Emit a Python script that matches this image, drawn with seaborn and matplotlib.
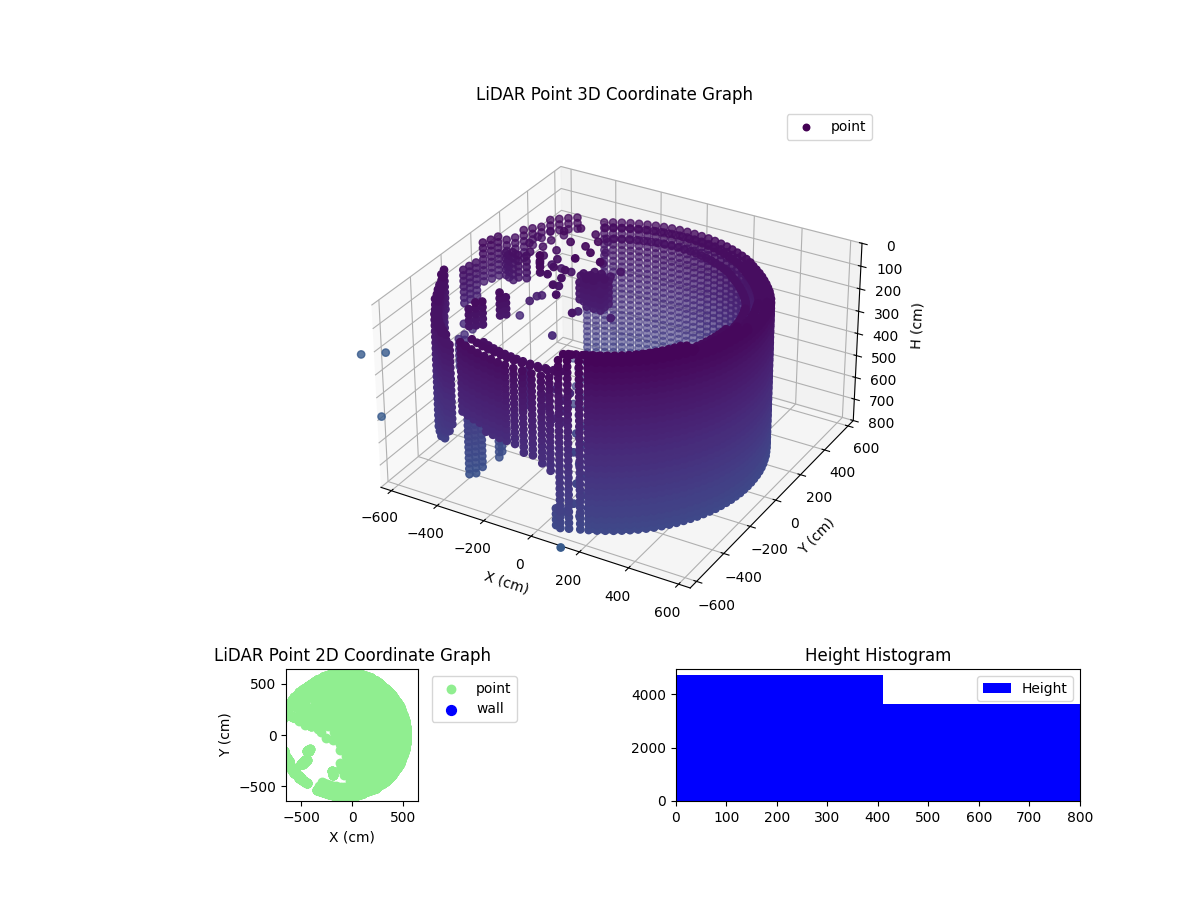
import numpy as np
import matplotlib
matplotlib.use("Agg")
import matplotlib.pyplot as plt
import seaborn as sns

# Wall columns: bearing (deg), radius (cm), top and bottom height (cm). top=bottom=0 means no column.
wall_angle = [0,3,6,9,12,15,18,21,24,27,30,33,36,39,42,45,48,51,54,57,
              60,63,66,69,72,75,78,81,84,87,90,93,96,99,102,105,108,111,114,117,
              120,123,126,129,132,135,138,141,144,147,150,153,156,159,162,165,168,171,174,177,
              180,183,186,189,192,195,198,201,204,207,210,213,216,219,222,225,228,231,234,
              237,240,243,246,249,252,255,258,261.5,265,268.5,272,275,278,281,
              285,288,291,294,297,300,303,306,309,312,315,318,321,324,327,330,333,336,339,342,345,348,351,354,357]
wall_radius = [530,530,530,531,532,533,534,535,537,538,540,542,543,545,546,548,550,553,556,559,
               563,570,574,578,582,586,590,594,598,602,605,608,612,615,618,621,624,627,630,633,
               636,639,642,645,650,655,660,665,670,675,680,685,690,695,700,700,705,708,710,710,
               710,710,710,705,700,695,690,685,685,680,680,675,670,665,660,655,655,650,645,
               640,635,630,625,620,615,612,608,605,602,599,596,593,585,578,
               571,568,566,563,561,559,557,555,553,551,549,547,545,543,541,540,538,537,536,534,533,532,531,531,530]
wall_top = [100]*9 + [125]*12 + [125]*22 + [500,520] + [100]*3 + [100,110,120,120,130,130,110,110,110] + [200]*3 \
           + [0,0,0,120,120,130,150,150,150,175,175,175,175,175,175,200] + [0]*3 + [125]*13 + [50]*2 \
           + [50]*15 + [75]*10
wall_bottom = [775]*43 + [775,775] + [150]*3 + [160,190,210,250,270,290,300,310,310] + [350]*3 \
              + [0,0,0,300,450,600,650,690,690,690,690,680,680,640,600,560] + [0]*3 \
              + [440,440,445,445,450,455,460,465,472,482,495,510,525] + [775]*2 + [775]*25
rim_inset = [45, 90]
rim_height = [25, 50]
row_height = [25,50,75,100,125,150,175,200,225,250,275,300,325,350,375,400,425,450,475,500,
              525,550,575,600,625,650,675,700,725,750,775,800,825,850,875,900]

# Floor patch: for each row y, the x extent of the returns.
floor_y = [570,510,450,390,330,270,210,150,90,30,-30,-90,-150,-210,-270,-330,-390,-450,-510,-570]
floor_left = [-250,-400,-480,-444,-410,-375,-340,-305,-270,-235,-200,-165,-130,-110,-30,-30,10,45,60,100]
floor_right = [105,235,315,375,415,455,475,495,505,515,515,505,495,475,455,415,375,315,235,105]
floor_x = [-600,-540,-480,-420,-360,-300,-240,-180,-120,-60,0,60,120,180,240,300,360,420,480,540]
floor_height = 750

# Short columns inside the room.
col_x = [-545,-515,-575,-600,-620,-401,-424,-409,-478,-460,-442,
         -498,-480,-462,-444,-436,-695,-695,40,-185,-195,
         -280,-250,-220,-190,-280,-250,-220,-190,-280,-250,-220,-190]
col_y = [165,175,175,185,195,88,-157,-139,-282,-264,-246,
         -282,-264,-246,-157,-148,-30,10,-540,-391,-350,
         170,170,170,170,200,200,200,200,230,230,230,230]
col_top = [130,140,150,160,170,65,125,150,150,125,125,
           600,550,525,675,725,460,470,725,300,300,
           200,170,170,210,170,170,170,170,190,170,170,200]
col_bottom = [260,270,280,290,290,160,225,225,225,225,225,
              900,900,875,875,850,600,620,800,450,450,
              280,320,310,320,320,320,320,300,260,320,320,300]

# Single returns.
dot_x = [-449,-405,-331,-382,-315,-293,-299,-273,-204,
         -443,-396,-349,-303,-255,-189,-203,-353,-316,-280,
         -259,-128,-523,-336,-183,-332,-458,-454,-441,-695,-695,
         -540,-480,-560,-500,-560,-500,-440,-520,-460,-400,-440,-380,-330,-370,-310,-310,-260,
         -120,-60,-120,-60,-80,-20,-20,20,
         -1467,-1388,-1114,-20]
dot_y = [341,392,376,277,274,330,172,239,193,
         239,231,225,218,202,318,267,504,424,342,
         123,139,133,62,-46,107,102,147,162,8,66,
         390,390,330,330,270,270,270,210,210,210,150,150,150,90,90,30,-30,
         -270,-270,-330,-330,-390,-390,-450,-450,
         396,459,28,-413]
dot_z = [100,100,100,100,100,100,100,100,100,
         200,200,200,200,200,200,200,200,200,200,
         300,300,400,400,200,200,300,300,300,425,480,
         150,150,150,150,150,150,150,150,150,150,150,150,150,150,150,150,150,
         400,400,400,400,400,400,400,400,
         1000,1000,1000,1000]

bin_edges = [0, 410, 800]
bin_counts = [4700, 3620]
wall_class_x = []
wall_class_y = []

xs, ys, zs = [], [], []
for a, r, t, b in zip(wall_angle, wall_radius, wall_top, wall_bottom):
    cos_a, sin_a = np.cos(np.radians(a)), np.sin(np.radians(a))
    for h in row_height:
        if t <= h <= b and b > 0:
            xs.append(r * cos_a); ys.append(r * sin_a); zs.append(h)
    if t in (50, 75, 100, 125) and b >= 440:
        for inset, h in zip(rim_inset, rim_height):
            xs.append((r - inset) * cos_a); ys.append((r - inset) * sin_a); zs.append(h + t - 25)
    if (b == 775 and (a >= 288 or a <= 60)) or (192 <= a <= 225):
        cos_b, sin_b = np.cos(np.radians(a + 1.5)), np.sin(np.radians(a + 1.5))
        for h in row_height:
            if t <= h <= b:
                xs.append((r - 12) * cos_b); ys.append((r - 12) * sin_b); zs.append(h)
for y, l, rr in zip(floor_y, floor_left, floor_right):
    for x in floor_x:
        if l <= x <= rr:
            xs.append(x); ys.append(y); zs.append(floor_height)
for x, y, t, b in zip(col_x, col_y, col_top, col_bottom):
    for h in row_height:
        if t <= h <= b:
            xs.append(x); ys.append(y); zs.append(h)
xs += dot_x; ys += dot_y; zs += dot_z
xs, ys, zs = np.array(xs), np.array(ys), np.array(zs)

cmap = sns.color_palette("viridis", as_cmap=True)
colors = cmap(zs / 3600)
nearness = 0.433 * xs / 646 - 0.75 * ys / 646 + 0.5 * 0.59 * (400 - zs) / 400
colors[:, 3] = np.clip(1.1 + 0.55 * nearness, 0.58, 1)
colors[np.abs(xs) > 800, 3] = 0.8

fig = plt.figure(figsize=(12, 9), dpi=100)
gs = fig.add_gridspec(4, 2, wspace=0.3, hspace=0.4167)

ax3d = fig.add_subplot(gs[:3, :], projection="3d")
ax3d.set_box_aspect((4, 4, 2.355), zoom=1.035)
pos = ax3d.get_position(original=True)
ax3d.set_position([pos.x0, pos.y0 - 11 / 900, pos.width, pos.height])
ax3d.scatter(xs, ys, zs, c=colors, s=28, depthshade=False, label="point", clip_on=False)
ax3d.set_xlim(-646, 646)
ax3d.set_ylim(-646, 646)
ax3d.set_zlim(800, 0)
ax3d.set_xticks([-600, -400, -200, 0, 200, 400, 600])
ax3d.set_yticks([-600, -400, -200, 0, 200, 400, 600])
ax3d.set_zticks([0, 100, 200, 300, 400, 500, 600, 700, 800])
ax3d.set_xlabel("X (cm)")
ax3d.set_ylabel("Y (cm)")
ax3d.set_zlabel("H (cm)")
fig.text(0.5125, 1 - 95 / 900, "LiDAR Point 3D Coordinate Graph", ha="center", va="center", fontsize=12)
leg = ax3d.legend(loc="upper right", bbox_to_anchor=(879 / 1200, 1 - 107.5 / 900), bbox_transform=fig.transFigure)
leg.legend_handles[0].set_facecolor(cmap(0.0))
leg.legend_handles[0].set_edgecolor(cmap(0.0))
leg.legend_handles[0].set_sizes([22])

ax2 = fig.add_subplot(gs[3, 0])
sns.scatterplot(x=xs, y=ys, color="lightgreen", s=50, linewidth=0, label="point", ax=ax2)
ax2.scatter(wall_class_x, wall_class_y, color="blue", s=50, label="wall")
ax2.set_xlim(-646, 646)
ax2.set_ylim(-646, 646)
ax2.set_aspect("equal")
ax2.set_xlabel("X (cm)")
ax2.set_ylabel("Y (cm)")
ax2.set_title("LiDAR Point 2D Coordinate Graph")
ax2.legend(loc="upper left", bbox_to_anchor=(1.05, 1))

ax3 = fig.add_subplot(gs[3, 1])
sns.histplot(x=[205, 605], weights=bin_counts, bins=bin_edges, color="blue", alpha=1,
             edgecolor="none", label="Height", ax=ax3)
ax3.set_xlim(0, 800)
ax3.set_xlabel("")
ax3.set_ylabel("")
ax3.set_title("Height Histogram")
ax3.legend()

fig.savefig("out.png", dpi=100)
